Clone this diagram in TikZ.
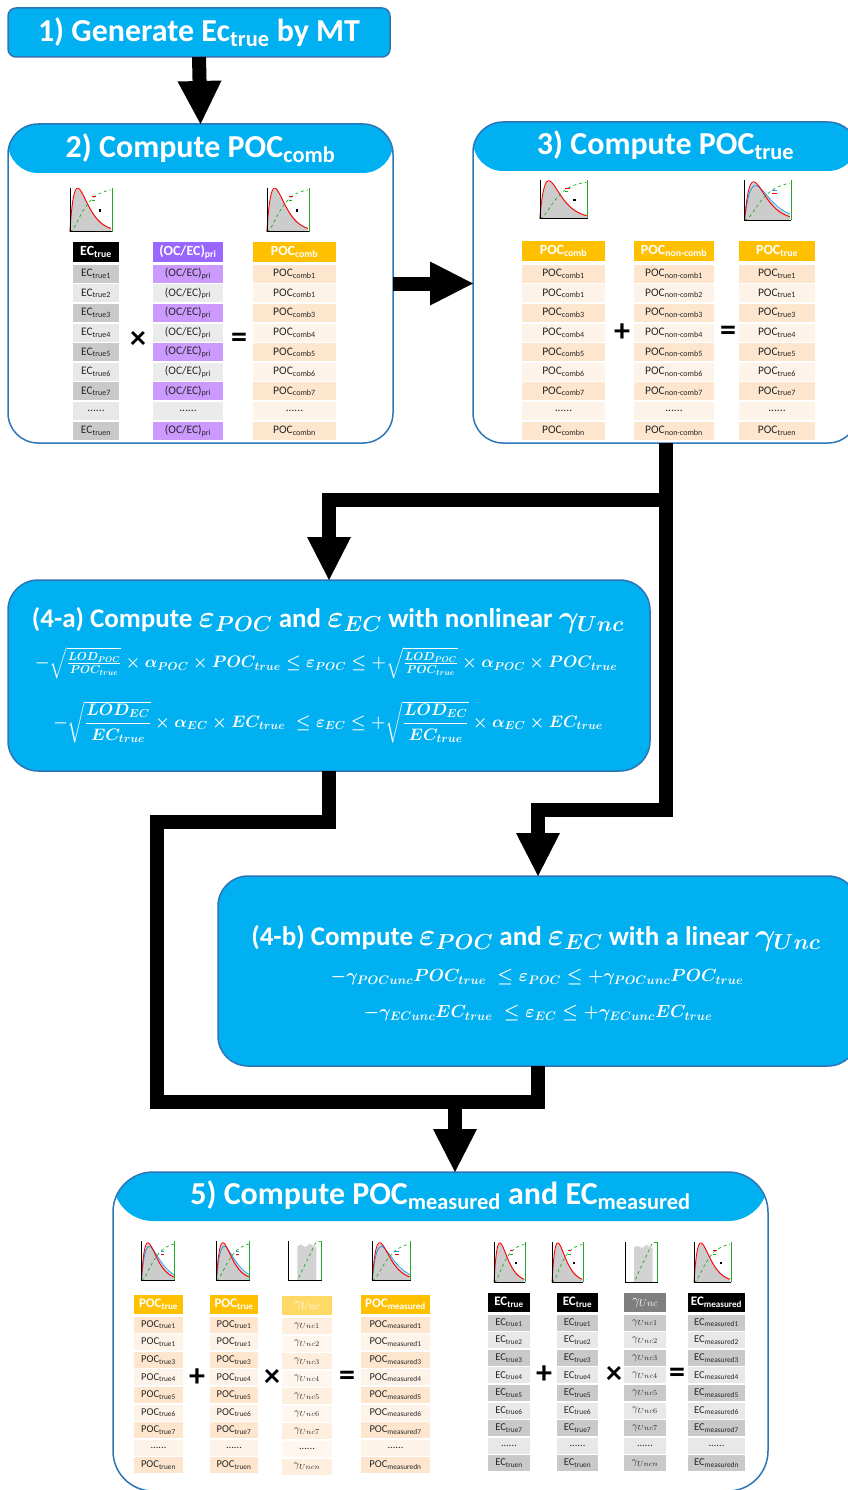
\documentclass[tikz,border=0pt]{standalone}
\usepackage{fix-cm}
\usepackage{amsmath}
\usepackage{fontspec}
\setmainfont{Carlito}
\usetikzlibrary{arrows.meta, positioning}

\definecolor{flowcyan}{HTML}{00B0F0}
\definecolor{flowedge}{HTML}{2E75B6}
\definecolor{ecdark}{HTML}{C9C9C9}
\definecolor{eclight}{HTML}{E8E8E8}
\definecolor{prihead}{HTML}{9966FF}
\definecolor{pridark}{HTML}{CC99FF}
\definecolor{prigray}{HTML}{EBEBEB}
\definecolor{pochead}{HTML}{FFC000}
\definecolor{pocdark}{HTML}{FDE6CD}
\definecolor{poclight}{HTML}{FEF3E8}
\definecolor{gamhead}{HTML}{FFD966}
\definecolor{gamdark}{HTML}{FEEEDD}
\definecolor{gamlight}{HTML}{FFF7EF}
\definecolor{gamgray}{HTML}{7F7F7F}
\definecolor{cdfgreen}{HTML}{22A822}
\definecolor{plotblue}{HTML}{1E9BF0}

\newcommand{\subtx}[1]{\textsubscript{#1}}
\newcommand{\rowdots}{......}
\newcommand{\tmath}[1]{{\fontsize{31}{31}\selectfont\boldmath$#1$}}

\tikzset{
  flowbox/.style={rectangle, rounded corners=30pt, draw=flowedge, line width=1.5pt, inner sep=0pt, outer sep=0pt},
  headband/.style={fill=white, path picture={\fill[flowcyan] (path picture bounding box.north west) rectangle ([yshift=-49pt]path picture bounding box.north east);}},
  boxtitle/.style={text=white, font=\bfseries\fontsize{32}{36}\selectfont},
  steptitle/.style={text=white, font=\bfseries\fontsize{27}{30}\selectfont},
  eqtext/.style={text=white, font=\fontsize{16.6}{20}\selectfont\boldmath},
  eqsmall/.style={text=white, font=\fontsize{17.6}{21}\selectfont\boldmath},
  cell/.style={rectangle, inner sep=0pt, minimum height=18pt, text=black!85, font=\fontsize{11.5}{12}\selectfont},
  headcell/.style={cell, minimum height=20pt, text=white, font=\bfseries\fontsize{14}{14}\selectfont},
  cellfive/.style={rectangle, inner sep=0pt, minimum height=16pt, text=black!85, font=\fontsize{10.5}{11}\selectfont},
  headfive/.style={cellfive, minimum height=19pt, text=white, font=\bfseries\fontsize{13}{13}\selectfont},
  opsign/.style={font=\bfseries\fontsize{32}{32}\selectfont},
  blockline/.style={line width=14pt},
  blockarrow/.style={blockline, -{Triangle[width=44pt,length=43pt,line width=0pt]}},
  % small distribution plots, args = width, height
  pics/lognplot/.style 2 args={code={
    \begin{scope}[x=#1, y=#2]
    \fill[gray!40] (0.12,0.12) -- plot[domain=0:1, samples=40, smooth] ({0.12+0.72*\x},{0.12+0.8*(\x/0.2)*exp(1-\x/0.2)}) -- (0.84,0.12) -- cycle;
    \draw[red, line width=0.9pt] plot[domain=0:1, samples=40, smooth] ({0.12+0.72*\x},{0.12+0.82*(\x/0.19)*exp(1-\x/0.19)});
    \draw[cdfgreen, dashed, line width=0.7pt] plot[domain=0:1, samples=25, smooth] ({0.12+0.72*\x},{0.12+0.82*(1-(1+\x/0.2)*exp(-\x/0.2))});
    \draw[line width=0.4pt] (0.12,0.95) -- (0.12,0.12) -- (0.86,0.12);
    \draw[cdfgreen, line width=0.9pt] (0.86,0.12) -- (0.86,0.95);
    \draw[red, line width=0.6pt] (0.5,0.78) -- (0.58,0.78);
    \draw[cdfgreen, dashed, line width=0.5pt] (0.5,0.71) -- (0.58,0.71);
    \fill (0.63,0.5) rectangle (0.67,0.55);
    \end{scope}
  }},
  pics/bothplot/.style 2 args={code={
    \begin{scope}[x=#1, y=#2]
    \fill[gray!40] (0.12,0.12) -- plot[domain=0:1, samples=40, smooth] ({0.12+0.72*\x},{0.12+0.78*(\x/0.22)*exp(1-\x/0.22)}) -- (0.84,0.12) -- cycle;
    \draw[plotblue, line width=0.8pt] plot[domain=0:1, samples=40, smooth] ({0.12+0.72*\x},{0.12+0.72*(\x/0.24)*exp(1-\x/0.24)});
    \draw[red, line width=0.9pt] plot[domain=0:1, samples=40, smooth] ({0.12+0.72*\x},{0.12+0.8*(\x/0.2)*exp(1-\x/0.2)});
    \draw[cdfgreen, dashed, line width=0.7pt] plot[domain=0:1, samples=25, smooth] ({0.12+0.72*\x},{0.12+0.82*(1-(1+\x/0.22)*exp(-\x/0.22))});
    \draw[line width=0.4pt] (0.12,0.95) -- (0.12,0.12) -- (0.86,0.12);
    \draw[cdfgreen, line width=0.9pt] (0.86,0.12) -- (0.86,0.95);
    \draw[plotblue, line width=0.6pt] (0.55,0.74) -- (0.63,0.74);
    \draw[red, line width=0.6pt] (0.55,0.68) -- (0.63,0.68);
    \end{scope}
  }},
  pics/uniplot/.style 2 args={code={
    \begin{scope}[x=#1, y=#2]
    \fill[gray!35] (0.32,0.12) -- (0.32,0.85) -- (0.4,0.88) -- (0.5,0.83) -- (0.6,0.9) -- (0.68,0.85) -- (0.74,0.83) -- (0.74,0.12) -- cycle;
    \draw[cdfgreen, dashed, line width=0.7pt] (0.12,0.12) -- (0.32,0.12) -- (0.74,0.95) -- (0.86,0.95);
    \draw[line width=0.4pt] (0.12,0.95) -- (0.12,0.12) -- (0.86,0.12);
    \draw[cdfgreen, line width=0.9pt] (0.86,0.12) -- (0.86,0.95);
    \end{scope}
  }},
}

\begin{document}
\begin{tikzpicture}[x=1pt, y=-1pt]
\useasboundingbox (0,0) rectangle (847,1490);

% Boxes
\node[flowbox, rounded corners=8pt, fill=flowcyan, minimum width=382pt, minimum height=49pt] (box1) at (199,32.5) {};
\node[flowbox, headband, minimum width=385pt, minimum height=319pt] (box2) at (200.5,283.5) {};
\node[flowbox, headband, minimum width=385pt, minimum height=321pt] (box3) at (665.5,282.5) {};
\node[flowbox, fill=flowcyan, minimum width=642pt, minimum height=191pt] (box4a) at (329,675.5) {};
\node[flowbox, fill=flowcyan, minimum width=640pt, minimum height=190pt] (box4b) at (538,971) {};
\node[flowbox, headband, rounded corners=40pt, minimum width=655pt, minimum height=319pt] (box5) at (440.5,1331.5) {};

% Titles
\node[boxtitle] (title1) at (box1) {1) Generate Ec\subtx{true} by MT};
\node[boxtitle] (title2) at ([yshift=-24pt]box2.north) {2) Compute POC\subtx{comb}};
\node[boxtitle] (title3) at ([yshift=-23pt]box3.north) {3) Compute POC\subtx{true}};
\node[boxtitle] (title5) at ([yshift=-23pt]box5.north) {5) Compute POC\subtx{measured} and EC\subtx{measured}};

% Connectors
\draw[blockarrow] (box1.south) -- (box2.north);
\draw[blockarrow] (box2.east) -- (box2.east -| box3.west);
\draw[blockarrow] (box3.south) -- ++(0,57) -| (box4a.north);
\draw[blockarrow] (box3.south) -- ++(0,367) -| (box4b.north);
\coordinate (bend4a) at (157,822);
\coordinate (merge) at (455,1102);
\draw[blockline] (box4a.south) |- (bend4a) |- (merge);
\draw[blockline] (box4b.south) |- (merge);
\draw[blockarrow] (merge) -- (merge |- box5.north);

% Step 2 table
\pic (plot2a) at (63,238) {lognplot={57pt}{53pt}};
\pic (plot2b) at (260,238) {lognplot={57pt}{53pt}};
\node[headcell, fill=black, minimum width=46pt] (ec2-h) at (96,252) {EC\subtx{true}};
\foreach \txt [count=\i] in {EC\subtx{true1},EC\subtx{true2},EC\subtx{true3},EC\subtx{true4},EC\subtx{true5},EC\subtx{true6},EC\subtx{true7},\rowdots,EC\subtx{truen}}{
  \ifodd\i\def\rowfill{ecdark}\else\def\rowfill{eclight}\fi
  \node[cell, fill=\rowfill, minimum width=46pt] (ec2-\i) at (96,254.2+19.6*\i) {\txt};
}
\node[headcell, fill=prihead, minimum width=70pt] (pri2-h) at (188,252) {(OC/EC)\subtx{pri}};
\foreach \txt [count=\i] in {(OC/EC)\subtx{pri},(OC/EC)\subtx{pri},(OC/EC)\subtx{pri},(OC/EC)\subtx{pri},(OC/EC)\subtx{pri},(OC/EC)\subtx{pri},(OC/EC)\subtx{pri},\rowdots,(OC/EC)\subtx{pri}}{
  \ifodd\i\def\rowfill{pridark}\else\def\rowfill{prigray}\fi
  \node[cell, fill=\rowfill, minimum width=70pt] (pri2-\i) at (188,254.2+19.6*\i) {\txt};
}
\node[headcell, fill=pochead, minimum width=83pt] (comb2-h) at (294.5,252) {POC\subtx{comb}};
\foreach \txt [count=\i] in {POC\subtx{comb1},POC\subtx{comb1},POC\subtx{comb3},POC\subtx{comb4},POC\subtx{comb5},POC\subtx{comb6},POC\subtx{comb7},\rowdots,POC\subtx{combn}}{
  \ifodd\i\def\rowfill{pocdark}\else\def\rowfill{poclight}\fi
  \node[cell, fill=\rowfill, minimum width=83pt] (comb2-\i) at (294.5,254.2+19.6*\i) {\txt};
}
\node[opsign] (times2) at (138,340) {×};
\node[opsign] (equal2) at (239,340) {=};

% Step 3 table
\pic (plot3a) at (532,224) {lognplot={65pt}{46pt}};
\pic (plot3b) at (737,226) {bothplot={63pt}{48pt}};
\node[headcell, fill=pochead, minimum width=83pt] (comb3-h) at (563.5,251) {POC\subtx{comb}};
\foreach \txt [count=\i] in {POC\subtx{comb1},POC\subtx{comb1},POC\subtx{comb3},POC\subtx{comb4},POC\subtx{comb5},POC\subtx{comb6},POC\subtx{comb7},\rowdots,POC\subtx{combn}}{
  \ifodd\i\def\rowfill{pocdark}\else\def\rowfill{poclight}\fi
  \node[cell, fill=\rowfill, minimum width=83pt] (comb3-\i) at (563.5,254.2+19.6*\i) {\txt};
}
\node[headcell, fill=pochead, minimum width=80pt] (ncomb3-h) at (674,251) {POC\subtx{non-comb}};
\foreach \txt [count=\i] in {POC\subtx{non-comb1},POC\subtx{non-comb2},POC\subtx{non-comb3},POC\subtx{non-comb4},POC\subtx{non-comb5},POC\subtx{non-comb6},POC\subtx{non-comb7},\rowdots,POC\subtx{non-combn}}{
  \ifodd\i\def\rowfill{pocdark}\else\def\rowfill{poclight}\fi
  \node[cell, fill=\rowfill, minimum width=80pt] (ncomb3-\i) at (674,254.2+19.6*\i) {\txt};
}
\node[headcell, fill=pochead, minimum width=76pt] (true3-h) at (777,251) {POC\subtx{true}};
\foreach \txt [count=\i] in {POC\subtx{true1},POC\subtx{true1},POC\subtx{true3},POC\subtx{true4},POC\subtx{true5},POC\subtx{true6},POC\subtx{true7},\rowdots,POC\subtx{truen}}{
  \ifodd\i\def\rowfill{pocdark}\else\def\rowfill{poclight}\fi
  \node[cell, fill=\rowfill, minimum width=76pt] (true3-\i) at (777,254.2+19.6*\i) {\txt};
}
\node[opsign] (plus3) at (622,333) {+};
\node[opsign] (equal3) at (728,333) {=};

% Step 4-a
\node[steptitle] (title4a) at (328,620) {(4-a) Compute \tmath{\varepsilon_{POC}} and \tmath{\varepsilon_{EC}} with nonlinear \tmath{\gamma_{Unc}}};
\node[eqtext] (eq4a1) at (326,663) {$-\sqrt{\frac{LOD_{POC}}{POC_{true}}}\times\alpha_{POC}\times POC_{true}\le\varepsilon_{POC}\le+\sqrt{\frac{LOD_{POC}}{POC_{true}}}\times\alpha_{POC}\times POC_{true}$};
\node[eqtext] (eq4a2) at (328,722) {$-\sqrt{\dfrac{LOD_{EC}}{EC_{true}}}\times\alpha_{EC}\times EC_{true}\;\le\varepsilon_{EC}\le+\sqrt{\dfrac{LOD_{EC}}{EC_{true}}}\times\alpha_{EC}\times EC_{true}$};

% Step 4-b
\node[steptitle] (title4b) at (536,938) {(4-b) Compute \tmath{\varepsilon_{POC}} and \tmath{\varepsilon_{EC}} with a linear \tmath{\gamma_{Unc}}};
\node[eqsmall] (eq4b1) at (537,977) {$-\gamma_{POCunc}POC_{true}\;\le\varepsilon_{POC}\le+\gamma_{POCunc}POC_{true}$};
\node[eqsmall] (eq4b2) at (538,1013) {$-\gamma_{ECunc}EC_{true}\;\le\varepsilon_{EC}\le+\gamma_{ECunc}EC_{true}$};

% Step 5, POC part
\pic (plot5a) at (136,1286) {bothplot={45pt}{47pt}};
\pic (plot5b) at (211,1286) {bothplot={45pt}{47pt}};
\pic (plot5c) at (283,1286) {uniplot={45pt}{47pt}};
\pic (plot5d) at (366,1286) {bothplot={52pt}{47pt}};
\node[headfive, fill=pochead, minimum width=49pt] (pta-h) at (158.5,1304.5) {POC\subtx{true}};
\foreach \txt [count=\i] in {POC\subtx{true1},POC\subtx{true1},POC\subtx{true3},POC\subtx{true4},POC\subtx{true5},POC\subtx{true6},POC\subtx{true7},\rowdots,POC\subtx{truen}}{
  \ifodd\i\def\rowfill{pocdark}\else\def\rowfill{poclight}\fi
  \node[cellfive, fill=\rowfill, minimum width=49pt] (pta-\i) at (158.5,1307.2+17.56*\i) {\txt};
}
\node[headfive, fill=pochead, minimum width=48pt] (ptb-h) at (234,1304.5) {POC\subtx{true}};
\foreach \txt [count=\i] in {POC\subtx{true1},POC\subtx{true1},POC\subtx{true3},POC\subtx{true4},POC\subtx{true5},POC\subtx{true6},POC\subtx{true7},\rowdots,POC\subtx{truen}}{
  \ifodd\i\def\rowfill{pocdark}\else\def\rowfill{poclight}\fi
  \node[cellfive, fill=\rowfill, minimum width=48pt] (ptb-\i) at (234,1307.2+17.56*\i) {\txt};
}
\node[headfive, fill=gamhead, minimum width=50pt, font=\fontsize{14}{14}\selectfont] (gpa-h) at (307,1305.5) {$\gamma_{Unc}$};
\foreach \txt [count=\i] in {$\gamma_{Unc1}$,$\gamma_{Unc2}$,$\gamma_{Unc3}$,$\gamma_{Unc4}$,$\gamma_{Unc5}$,$\gamma_{Unc6}$,$\gamma_{Unc7}$,\rowdots,$\gamma_{Uncn}$}{
  \ifodd\i\def\rowfill{gamdark}\else\def\rowfill{gamlight}\fi
  \node[cellfive, fill=\rowfill, minimum width=50pt] (gpa-\i) at (307,1308.5+17.56*\i) {\txt};
}
\node[headfive, fill=pochead, minimum width=69pt] (pm-h) at (395.5,1304.5) {POC\subtx{measured}};
\foreach \txt [count=\i] in {POC\subtx{measured1},POC\subtx{measured1},POC\subtx{measured3},POC\subtx{measured4},POC\subtx{measured5},POC\subtx{measured6},POC\subtx{measured7},\rowdots,POC\subtx{measuredn}}{
  \ifodd\i\def\rowfill{pocdark}\else\def\rowfill{poclight}\fi
  \node[cellfive, fill=\rowfill, minimum width=69pt] (pm-\i) at (395.5,1307.2+17.56*\i) {\txt};
}
\node[opsign] (plus5a) at (197,1378) {+};
\node[opsign] (times5a) at (272,1378) {×};
\node[opsign] (equal5a) at (347,1378) {=};

% Step 5, EC part
\pic (plot5e) at (489,1288) {lognplot={42pt}{48pt}};
\pic (plot5f) at (547,1288) {lognplot={42pt}{48pt}};
\pic (plot5g) at (620,1288) {uniplot={44pt}{48pt}};
\pic (plot5h) at (688,1288) {lognplot={50pt}{48pt}};
\node[headfive, fill=black, minimum width=42pt] (eca-h) at (509,1302.5) {EC\subtx{true}};
\foreach \txt [count=\i] in {EC\subtx{true1},EC\subtx{true2},EC\subtx{true3},EC\subtx{true4},EC\subtx{true5},EC\subtx{true6},EC\subtx{true7},\rowdots,EC\subtx{truen}}{
  \ifodd\i\def\rowfill{ecdark}\else\def\rowfill{eclight}\fi
  \node[cellfive, fill=\rowfill, minimum width=42pt] (eca-\i) at (509,1305.2+17.56*\i) {\txt};
}
\node[headfive, fill=black, minimum width=41pt] (ecb-h) at (577.5,1302.5) {EC\subtx{true}};
\foreach \txt [count=\i] in {EC\subtx{true1},EC\subtx{true2},EC\subtx{true3},EC\subtx{true4},EC\subtx{true5},EC\subtx{true6},EC\subtx{true7},\rowdots,EC\subtx{truen}}{
  \ifodd\i\def\rowfill{ecdark}\else\def\rowfill{eclight}\fi
  \node[cellfive, fill=\rowfill, minimum width=41pt] (ecb-\i) at (577.5,1305.2+17.56*\i) {\txt};
}
\node[headfive, fill=gamgray, minimum width=42pt, font=\fontsize{14}{14}\selectfont] (gpb-h) at (645,1302.5) {$\gamma_{Unc}$};
\foreach \txt [count=\i] in {$\gamma_{Unc1}$,$\gamma_{Unc2}$,$\gamma_{Unc3}$,$\gamma_{Unc4}$,$\gamma_{Unc5}$,$\gamma_{Unc6}$,$\gamma_{Unc7}$,\rowdots,$\gamma_{Uncn}$}{
  \ifodd\i\def\rowfill{ecdark}\else\def\rowfill{eclight}\fi
  \node[cellfive, fill=\rowfill, minimum width=42pt] (gpb-\i) at (645,1305.2+17.56*\i) {\txt};
}
\node[headfive, fill=black, minimum width=57pt] (em-h) at (716.5,1302.5) {EC\subtx{measured}};
\foreach \txt [count=\i] in {EC\subtx{measured1},EC\subtx{measured2},EC\subtx{measured3},EC\subtx{measured4},EC\subtx{measured5},EC\subtx{measured6},EC\subtx{measured7},\rowdots,EC\subtx{measuredn}}{
  \ifodd\i\def\rowfill{ecdark}\else\def\rowfill{eclight}\fi
  \node[cellfive, fill=\rowfill, minimum width=57pt] (em-\i) at (716.5,1305.2+17.56*\i) {\txt};
}
\node[opsign] (plus5b) at (544,1375) {+};
\node[opsign] (times5b) at (614,1375) {×};
\node[opsign] (equal5b) at (677,1375) {=};

\end{tikzpicture}
\end{document}
